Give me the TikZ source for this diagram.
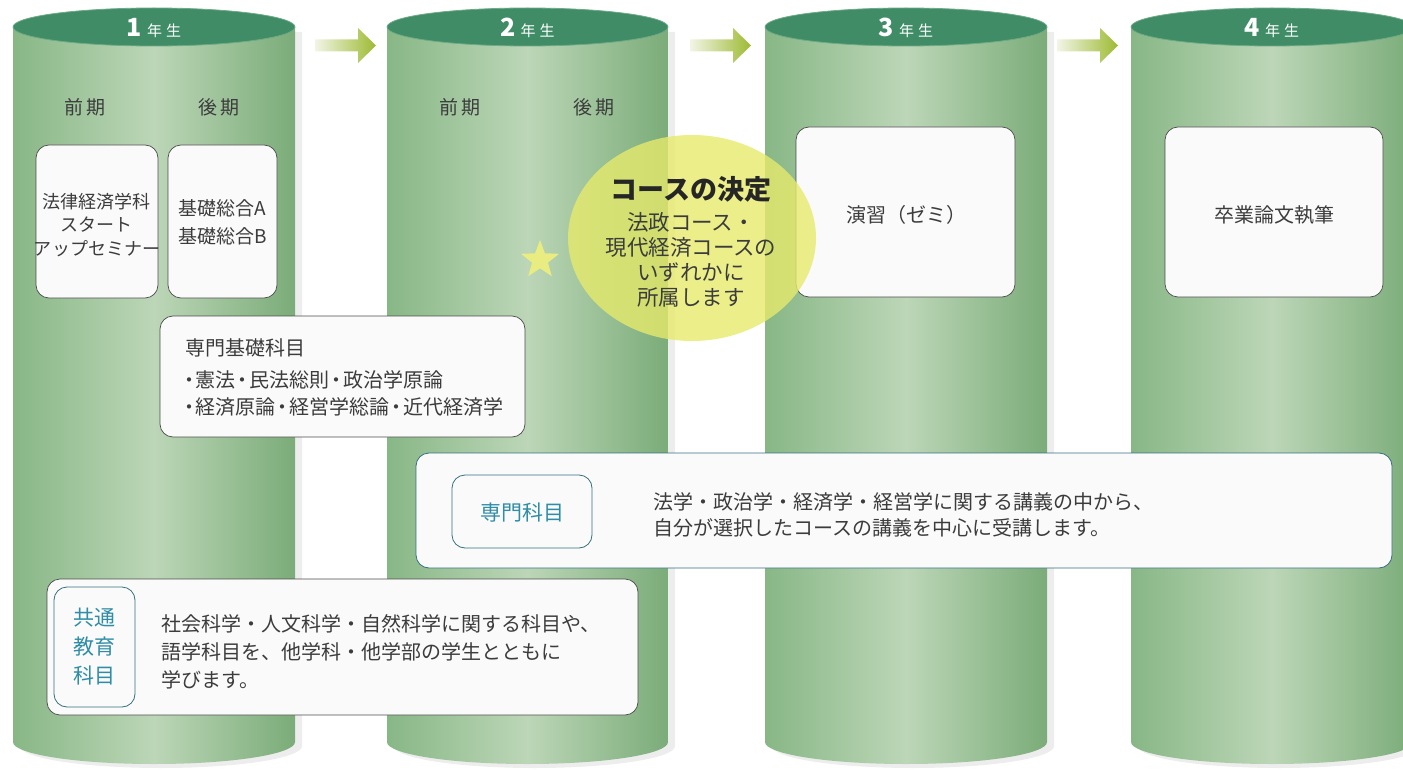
\documentclass[tikz,border=0pt]{standalone}
\usepackage{fontspec}
\setmainfont{Noto Sans CJK JP}
\usetikzlibrary{shapes.geometric}
\newcommand\fsz[2]{\fontsize{#1}{#2}\selectfont}
\newcommand\ndot{\kern-.16em・\kern-.16em}
\definecolor{cylL}{HTML}{88B786}
\definecolor{cylM}{HTML}{BCD6B7}
\definecolor{cylR}{HTML}{7BAC79}
\definecolor{cyltop}{HTML}{3F8C67}
\definecolor{cylrim}{HTML}{6FAA86}
\definecolor{txtc}{HTML}{3C3C3C}
\definecolor{teal}{HTML}{2F8DA6}
\definecolor{tealline}{HTML}{35707E}
\definecolor{boxfill}{HTML}{FAFAFA}
\definecolor{circfill}{HTML}{E6EA6C}
\definecolor{starfill}{HTML}{E9EC80}
\definecolor{arrL}{HTML}{F2F5E6}
\definecolor{arrR}{HTML}{9DBA32}
\tikzset{
  wbox/.style={draw=black!70, line width=0.7pt, rounded corners=13pt, fill=boxfill, inner sep=0pt},
  tbox/.style={draw=tealline, line width=0.8pt, rounded corners=13pt, fill=boxfill, inner sep=0pt},
  txt/.style={text=txtc, inner sep=0pt},
  yearlbl/.style={text=white, inner sep=0pt},
  arrowshade/.style={left color=arrL, right color=arrR}
}
\begin{document}
\begin{tikzpicture}[x=1pt,y=-1pt]
\useasboundingbox (0,0) rectangle (1403,770);
% cylinders
\foreach \L/\R/\n in {13/295/1,387/668/2,765/1047/3,1131/1413/4}{
  \pgfmathsetmacro\rx{(\R-\L)/2}
  \pgfmathsetmacro\cx{(\R+\L)/2}
  \fill[black, opacity=0.07] (\L+7,32) -- (\L+7,746) arc[start angle=180,end angle=360,x radius=\rx pt,y radius=22pt] -- (\R+7,32) -- cycle;
  \shade[left color=cylL, right color=cylR, middle color=cylM] (\L,27) -- (\L,742) arc[start angle=180,end angle=360,x radius=\rx pt,y radius=22pt] -- (\R,27) -- cycle;
  \fill[cyltop, draw=cylrim, line width=0.8pt] (\cx,27) ellipse [x radius=\rx pt,y radius=19pt];
  \node[yearlbl] (yr\n) at (\cx,28) {{\fsz{25}{25}\bfseries\n}\hspace{5pt}{\fsz{15}{15}年\hspace{4pt}生}};
}
% arrows between the years
\foreach \x/\n in {315/1,690/2,1057/3}{
  \coordinate (as\n) at (\x,45.5);
  \shade[arrowshade] (\x,39.5) -- (\x+43,39.5) -- (\x+43,28) -- (\x+61,45.5) -- (\x+43,63) -- (\x+43,51.5) -- (\x,51.5) -- cycle;
}
% semester labels
\node[txt, font=\fsz{19}{19}] (z1) at (85,107) {前\hspace{3pt}期};
\node[txt, font=\fsz{19}{19}] (k1) at (219,107) {後\hspace{3pt}期};
\node[txt, font=\fsz{19}{19}] (z2) at (460,107) {前\hspace{3pt}期};
\node[txt, font=\fsz{19}{19}] (k2) at (594,107) {後\hspace{3pt}期};
% year 1 boxes
\node[wbox, minimum width=122pt, minimum height=153pt] (boxA) at (97,221.5) {};
\node[txt, font=\fsz{18}{23.5}, align=center] (tA) at (97,225) {法律経済学科\\スタート\\アップセミナー};
\node[wbox, minimum width=109pt, minimum height=153pt] (boxB) at (222.5,221.5) {};
\node[txt, font=\fsz{19}{28}, align=center] (tB) at (222.5,222) {基礎総合A\\基礎総合B};
% senmon kiso
\node[wbox, minimum width=365pt, minimum height=121pt] (kiso) at (342.5,376.5) {};
\node[txt, font=\fsz{20}{20}, anchor=west] (kisoH) at (185,348) {専門基礎科目};
\node[txt, font=\fsz{20}{27}, anchor=west, align=left] (kisoL) at (182,393.5) {\ndot 憲法\ndot 民法総則\ndot 政治学原論\\\ndot 経済原論\ndot 経営学総論\ndot 近代経済学};
% year 3, 4 boxes
\node[wbox, minimum width=219pt, minimum height=170pt] (box3) at (905.5,212) {};
\node[txt, font=\fsz{20}{20}] (t3) at (906,215) {演習（ゼミ）};
\node[wbox, minimum width=218pt, minimum height=170pt] (box4) at (1274,212) {};
\node[txt, font=\fsz{20}{20}] (t4) at (1274,215) {卒業論文執筆};
% senmon kamoku
\node[tbox, minimum width=976pt, minimum height=115pt] (sen) at (904,510.5) {};
\node[tbox, minimum width=140pt, minimum height=73pt] (senI) at (522,511.5) {};
\node[inner sep=0pt, text=teal, font=\fsz{21}{21}] (senT) at (522,513) {専門科目};
\node[txt, font=\fsz{20}{26}, anchor=west, align=left] (senL) at (653,515) {法学・政治学・経済学・経営学に関する講義の中から、\\自分が選択したコースの講義を中心に受講します。};
% kyotsu
\node[wbox, minimum width=591pt, minimum height=136pt] (kyo) at (342.5,647) {};
\node[tbox, minimum width=81pt, minimum height=120pt] (kyoI) at (94.5,647) {};
\node[inner sep=0pt, text=teal, font=\fsz{21}{29}, align=center] (kyoT) at (94.5,647) {共通\\教育\\科目};
\node[txt, font=\fsz{20}{28}, anchor=west, align=left] (kyoL) at (161,652) {社会科学・人文科学・自然科学に関する科目や、\\語学科目を、他学科・他学部の学生とともに\\学びます。};
% course decision
\node[star, star points=5, star point ratio=2.4, fill=starfill, minimum size=40pt, inner sep=0pt] (star) at (540,260) {};
\node[ellipse, minimum width=248pt, minimum height=206pt, fill=circfill, fill opacity=0.8, inner sep=0pt] (course) at (692,238) {};
\node[txt, text=black!85, font=\fsz{27}{27}\bfseries] (courseH) at (691,189) {コースの決定};
\node[txt, font=\fsz{21.5}{25}, align=center] (courseB) at (691,259.5) {法政コース・\\現代経済コースの\\いずれかに\\所属します};
\end{tikzpicture}
\end{document}
